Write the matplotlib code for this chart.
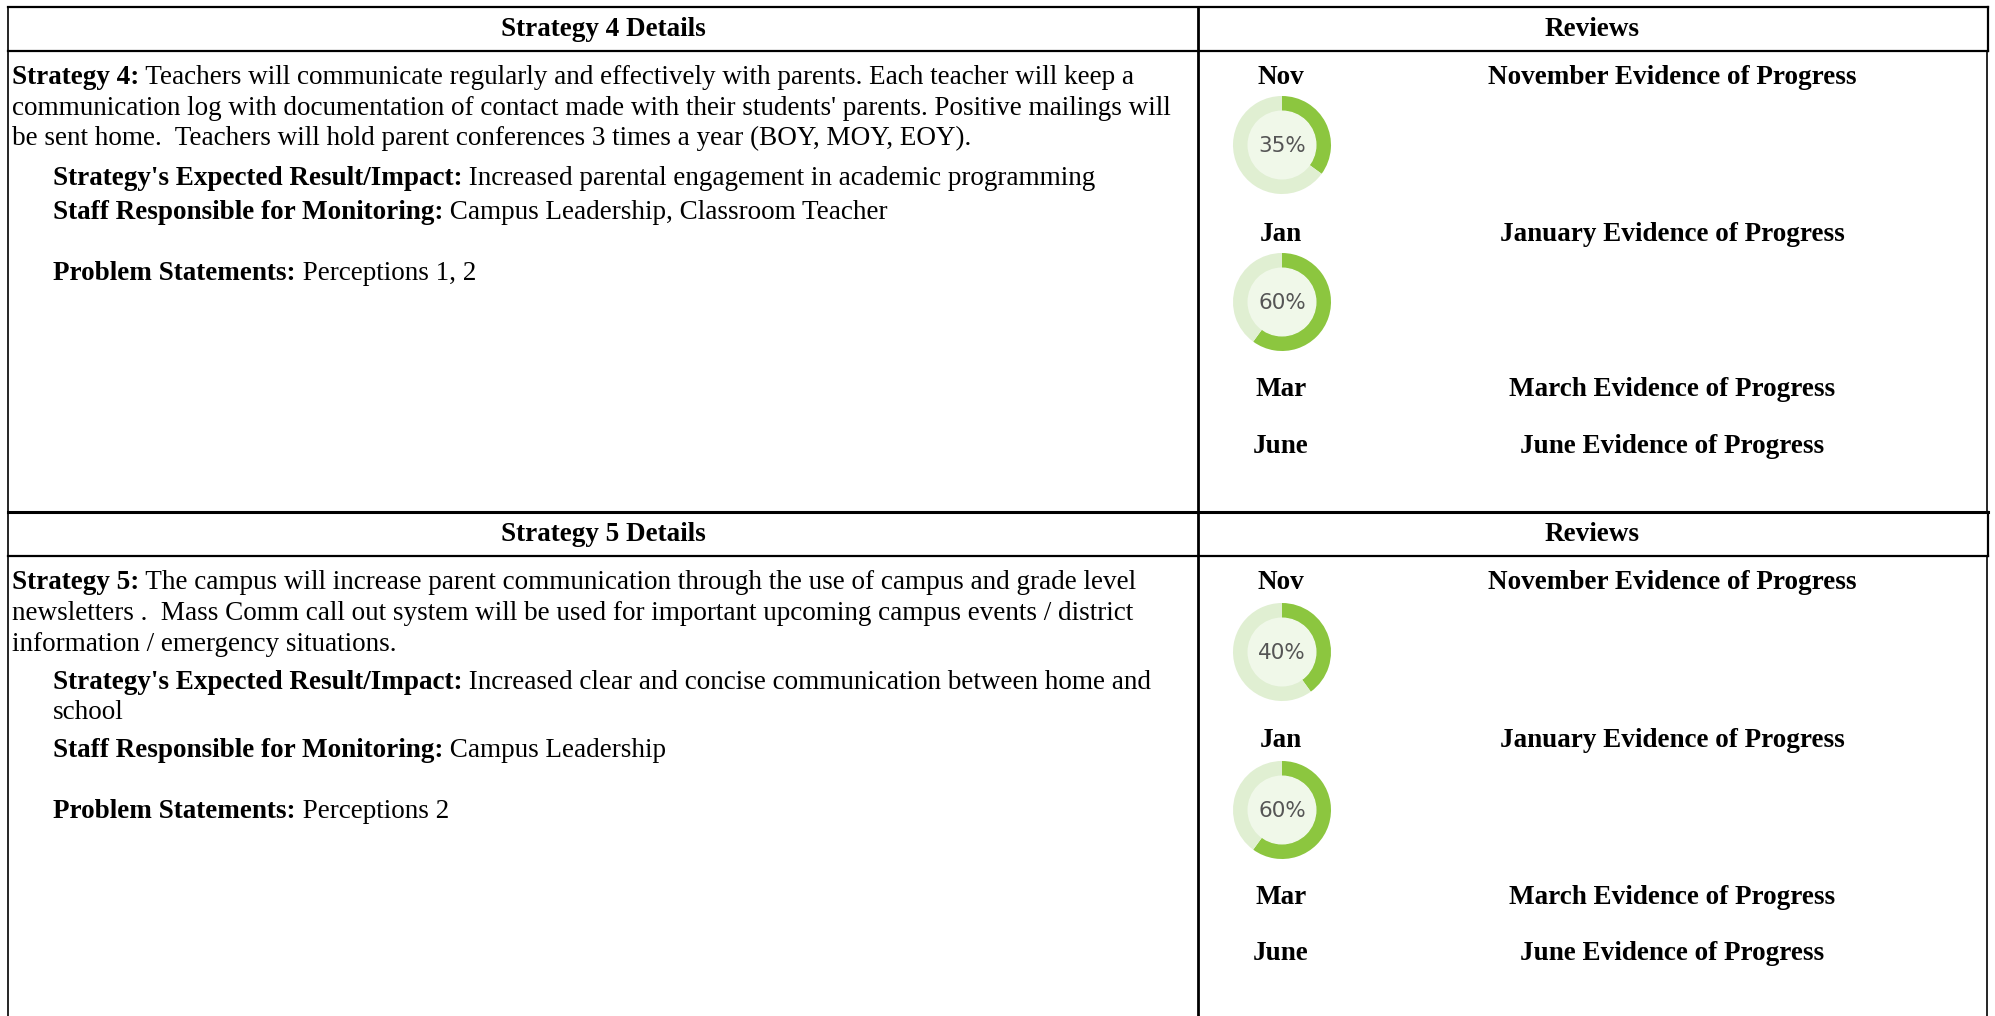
import matplotlib.pyplot as plt
from matplotlib.patches import Circle

# ---- data ----
months = ["Nov", "Jan", "Mar", "June"]
evidence = ["November Evidence of Progress", "January Evidence of Progress",
            "March Evidence of Progress", "June Evidence of Progress"]
headers = ["Strategy 4 Details", "Strategy 5 Details"]
review_header = "Reviews"

# percent complete shown for Nov and Jan reviews
progress_s4 = [35, 60]
progress_s5 = [40, 60]

# (bold label, regular text, indented)
details_s4 = [
    ("Strategy 4:", " Teachers will communicate regularly and effectively with parents. Each teacher will keep a", False),
    ("", "communication log with documentation of contact made with their students' parents. Positive mailings will", False),
    ("", "be sent home.  Teachers will hold parent conferences 3 times a year (BOY, MOY, EOY).", False),
    ("Strategy's Expected Result/Impact:", " Increased parental engagement in academic programming", True),
    ("Staff Responsible for Monitoring:", " Campus Leadership, Classroom Teacher", True),
    ("Problem Statements:", " Perceptions 1, 2", True),
]
details_s5 = [
    ("Strategy 5:", " The campus will increase parent communication through the use of campus and grade level", False),
    ("", "newsletters .  Mass Comm call out system will be used for important upcoming campus events / district", False),
    ("", "information / emergency situations.", False),
    ("Strategy's Expected Result/Impact:", " Increased clear and concise communication between home and", True),
    ("", "school", True),
    ("Staff Responsible for Monitoring:", " Campus Leadership", True),
    ("Problem Statements:", " Perceptions 2", True),
]

# ---- layout (pixels) ----
W, H = 1995, 1016
X_LEFT, X_MID, X_RIGHT = 8, 1198, 1987
FONT = "Liberation Serif"
FS = 19.5
GREEN, RING, CENTER = "#8cc63f", "#e0efd2", "#f0f8e9"

fig = plt.figure(figsize=(W / 100, H / 100), dpi=100)
ax = fig.add_axes([0, 0, 1, 1])
ax.set_xlim(0, W)
ax.set_ylim(H, 0)
ax.axis("off")


def donut(cx, cy, pct, r=49):
    dax = fig.add_axes([(cx - r) / W, 1 - (cy + r) / H, 2 * r / W, 2 * r / H])
    dax.pie([pct, 100 - pct], colors=[GREEN, RING], startangle=90, counterclock=False,
            wedgeprops=dict(width=0.31, edgecolor="none"))
    dax.add_patch(Circle((0, 0), 0.69, color=CENTER, zorder=3))
    dax.text(0, -0.02, f"{pct}%", ha="center", va="center", fontsize=15.5,
             color="#555555", family="DejaVu Sans", zorder=4)
    dax.set_xlim(-1, 1)
    dax.set_ylim(-1, 1)
    dax.set_aspect("equal")
    dax.axis("off")


def block(top, header, details, row_y, progress, month_y, donut_y, bottom):
    # borders
    ax.plot([X_LEFT, X_RIGHT + 1], [top, top], color="black", lw=2.2 if top > 100 else 1.6)
    ax.plot([X_LEFT, X_RIGHT + 1], [top + 44, top + 44], color="black", lw=1.6)
    ax.plot([X_LEFT, X_LEFT], [top, bottom], color="black", lw=1.2)
    ax.plot([X_MID, X_MID], [top, bottom], color="black", lw=2.0)
    ax.plot([X_RIGHT + 1, X_RIGHT + 1], [top, top + 44], color="black", lw=1.6)
    ax.plot([X_RIGHT, X_RIGHT], [top + 44, bottom], color="black", lw=1.2)

    ax.text((X_LEFT + X_MID) / 2, top + 29, header, ha="center", va="baseline",
            fontsize=FS, fontweight="bold", family=FONT)
    ax.text((X_MID + X_RIGHT) / 2, top + 29, review_header, ha="center", va="baseline",
            fontsize=FS, fontweight="bold", family=FONT)

    for (bold, regular, indent), dy in zip(details, row_y):
        x = 53 if indent else 12
        y = top + dy
        if bold:
            t = ax.text(x, y, bold, ha="left", va="baseline", fontsize=FS,
                        fontweight="bold", family=FONT)
            ax.annotate(regular, xy=(1, 0), xycoords=t, ha="left", va="bottom",
                        fontsize=FS, family=FONT)
        else:
            ax.text(x, y, regular, ha="left", va="baseline", fontsize=FS, family=FONT)

    for m, ev, dy in zip(months, evidence, month_y):
        ax.text(1281, top + dy, m, ha="center", va="baseline", fontsize=FS,
                fontweight="bold", family=FONT)
        ax.text(1672, top + dy, ev, ha="center", va="baseline", fontsize=FS,
                fontweight="bold", family=FONT)

    for pct, dy in zip(progress, donut_y):
        donut(1282, top + dy, pct)


block(7, headers[0], details_s4, [77, 108, 138, 178, 212, 273], progress_s4,
      [77, 234, 389, 446], [138, 295], 512)
block(512, headers[1], details_s5, [77, 108, 139, 177, 207, 245, 306], progress_s5,
      [77, 235, 392, 448], [140, 298], H)

fig.savefig("out.png", dpi=100)
